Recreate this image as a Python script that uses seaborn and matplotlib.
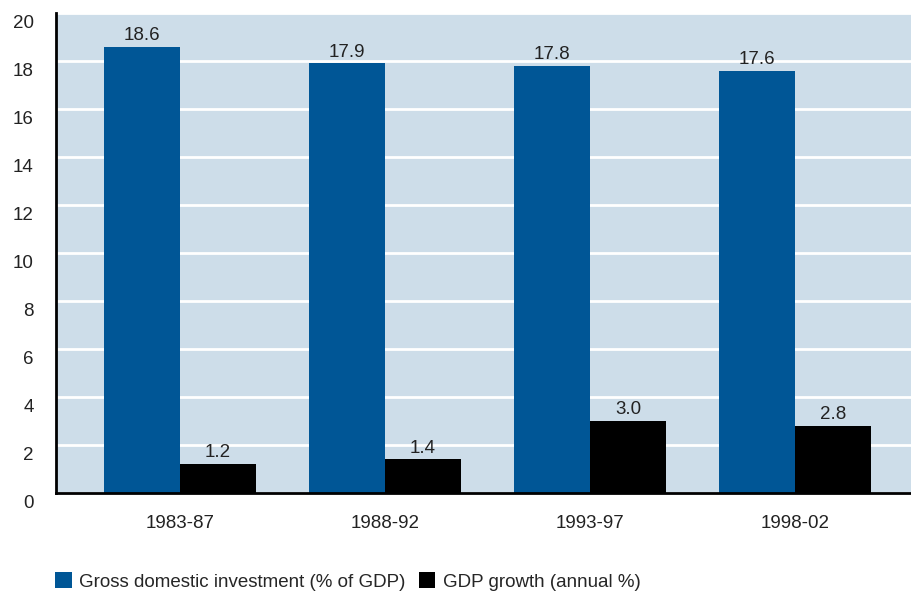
import matplotlib
matplotlib.use("Agg")
import matplotlib.pyplot as plt
import matplotlib.transforms as mtransforms
from matplotlib.patches import Patch
import seaborn as sns
import pandas as pd

periods = ["1983-87", "1988-92", "1993-97", "1998-02"]
investment = [18.6, 17.9, 17.8, 17.6]
growth = [1.2, 1.4, 3.0, 2.8]
series_names = ["Gross domestic investment (% of GDP)", "GDP growth (annual %)"]
series_colors = ["#005696", "#000000"]
y_ticks = [0, 2, 4, 6, 8, 10, 12, 14, 16, 18, 20]

df = pd.DataFrame({
    "period": periods * 2,
    "value": investment + growth,
    "series": [series_names[0]] * len(periods) + [series_names[1]] * len(periods),
})

sns.set_theme(style="white")
plt.rcParams["font.family"] = ["Liberation Sans", "DejaVu Sans"]
FS = 13.5

fig = plt.figure(figsize=(9.11, 5.91), dpi=100)
ax = fig.add_axes([0.0615, 0.1658, 0.9385, 0.8122])
ax.set_facecolor("#cddde9")

sns.barplot(data=df, x="period", y="value", hue="series",
            palette=series_colors, saturation=1, width=0.74,
            linewidth=0, ax=ax, legend=False)

for cont in ax.containers:
    ax.bar_label(cont, fmt="%.1f", padding=2, fontsize=FS, color="#222222")

ax.set_ylim(0, 20)
ax.set_xlim(-0.605, 3.566)
ax.set_yticks(y_ticks)
ax.yaxis.grid(True, color="white", linewidth=2)
ax.set_axisbelow(True)
ax.tick_params(axis="both", length=0, labelsize=FS, colors="#222222")
ax.tick_params(axis="x", pad=16)
ax.tick_params(axis="y", pad=16)
ax.set_xlabel("")
ax.set_ylabel("")
for side in ["top", "right"]:
    ax.spines[side].set_visible(False)
for side in ["left", "bottom"]:
    ax.spines[side].set_color("black")
    ax.spines[side].set_linewidth(2)

# y tick labels sit a little below their gridlines
shift = mtransforms.ScaledTranslation(0, -6 / 72, fig.dpi_scale_trans)
for lbl in ax.get_yticklabels():
    lbl.set_transform(lbl.get_transform() + shift)

handles = [Patch(facecolor=c, linewidth=0) for c in series_colors]
fig.legend(handles, series_names, loc="lower left", bbox_to_anchor=(0.0415, -0.028),
           ncol=2, frameon=False, fontsize=FS, handlelength=0.9, handleheight=0.9,
           handletextpad=0.4, columnspacing=0.7)

fig.savefig("out.png", dpi=100)
